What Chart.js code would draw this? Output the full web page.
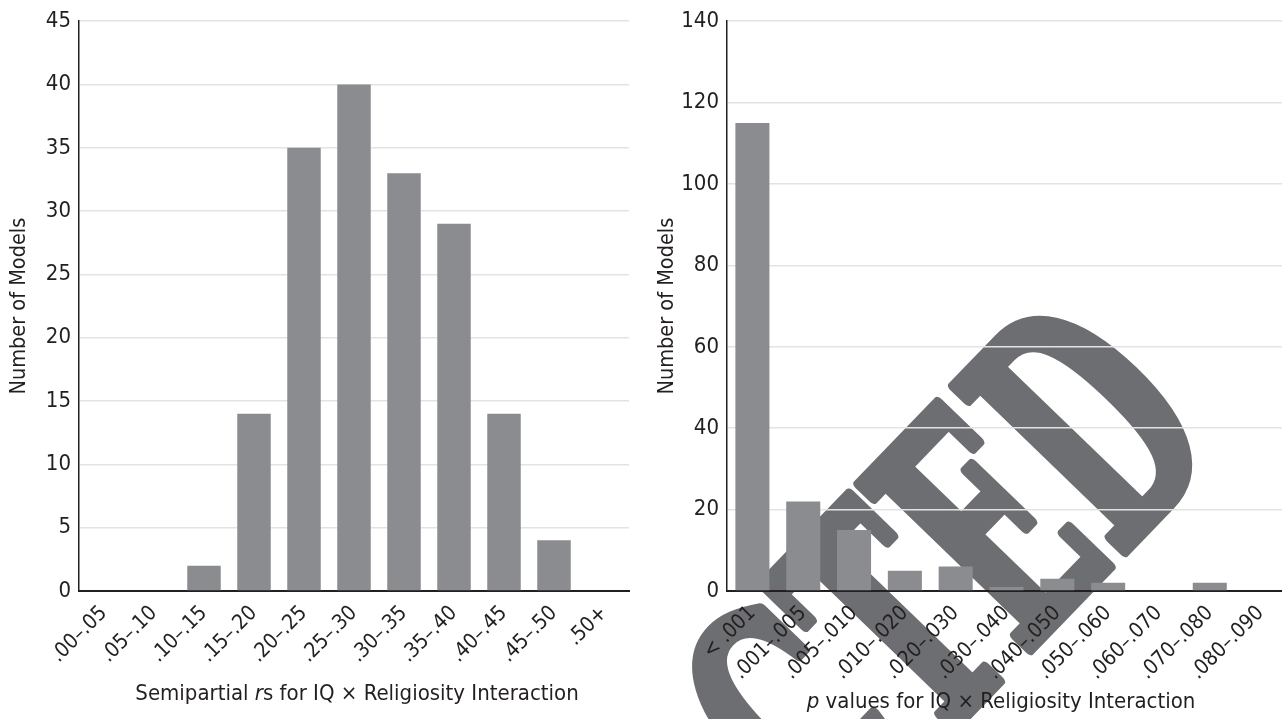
<!DOCTYPE html>
<html><head><meta charset="utf-8">
<script src="https://cdn.jsdelivr.net/npm/chart.js@4/dist/chart.umd.min.js"></script>
<style>
html,body{margin:0;padding:0;background:#fff;overflow:hidden;width:1282px;height:719px;}
.w{position:absolute;top:0;height:719px;}
</style></head><body>
<div class="w" style="left:0;width:640px"><canvas id="c1"></canvas></div>
<div class="w" style="left:640px;width:660px"><canvas id="c2"></canvas></div>
<script>
// ---- data ----
const rCategories = ['.00–.05','.05–.10','.10–.15','.15–.20','.20–.25','.25–.30','.30–.35','.35–.40','.40–.45','.45–.50','.50+'];
const rCounts = [0,0,2,14,35,40,33,29,14,4,0];
const pCategories = ['< .001','.001–.005','.005–.010','.010–.020','.020–.030','.030–.040','.040–.050','.050–.060','.060–.070','.070–.080','.080–.090'];
const pCounts = [115,22,15,5,6,1,3,2,0,2,0];
const rTicks = {min:0, max:45, step:5};
const pTicks = {min:0, max:140, step:20};
const yTitle = 'Number of Models';
const rTitle = [['Semipartial ',false],['r',true],['s for IQ × Religiosity Interaction',false]];
const pTitle = [['p',true],[' values for IQ × Religiosity Interaction',false]];
const stampText = 'RETRACTED';

const FONT = '"Liberation Sans Narrow","DejaVu Sans Condensed","Liberation Sans",sans-serif';
const TXT = '#231f20';
const BAR = '#8b8c90';
const GRID = '#e3e3e3';

function xTitlePlugin(parts, cx, cy){
  return {id:'xt', afterDraw(chart){
    const ctx = chart.ctx; ctx.save();
    ctx.fillStyle = TXT; ctx.textBaseline='middle';
    const f = i => (i?'italic ':'')+'22px '+FONT;
    let w=0; parts.forEach(p=>{ctx.font=f(p[1]); w+=ctx.measureText(p[0]).width;});
    let x = cx - w/2;
    parts.forEach(p=>{ctx.font=f(p[1]); ctx.fillText(p[0],x,cy); x+=ctx.measureText(p[0]).width;});
    ctx.restore();
  }};
}

const stampPlugin = {id:'stamp', beforeDraw(chart){
  const ctx = chart.ctx; ctx.save();
  ctx.fillStyle = '#6d6e72'; ctx.strokeStyle = '#6d6e72';
  ctx.translate(585, 447);
  ctx.rotate(-46*Math.PI/180);
  ctx.scale(0.55, 1);
  ctx.font = 'bold 325px "DejaVu Serif", "Liberation Serif", serif';
  ctx.textAlign='right'; ctx.textBaseline='alphabetic';
  ctx.lineWidth = 12; ctx.lineJoin = 'round';
  ctx.fillText(stampText, 0, 0);
  ctx.strokeText(stampText, 0, 0);
  ctx.restore();
}};

function makeChart(id, cats, vals, tk, yW, titlePad, padRight, plugins){
  return new Chart(document.getElementById(id), {
    type:'bar',
    data:{labels:cats, datasets:[{data:vals, backgroundColor:BAR, barPercentage:0.67, categoryPercentage:1.0}]},
    options:{
      responsive:true, maintainAspectRatio:false, animation:false,
      devicePixelRatio:1,
      layout:{padding:{top:20,right:padRight,left:0,bottom:0}},
      plugins:{legend:{display:false}, tooltip:{enabled:false}},
      scales:{
        x:{
          grid:{display:false, drawTicks:false},
          border:{display:true, color:TXT, width:2},
          ticks:{color:TXT, font:{family:FONT,size:21}, maxRotation:45, minRotation:45, padding:10, autoSkip:false},
          afterFit(s){ s.height = 128; }
        },
        y:{
          min:tk.min, max:tk.max,
          grid:{color:GRID, lineWidth:1.5, drawTicks:false},
          border:{display:true, color:TXT, width:1.5},
          ticks:{stepSize:tk.step, color:TXT, font:{family:FONT,size:22}, padding:8},
          title:{display:true, text:yTitle, color:TXT, font:{family:FONT,size:21.5}, padding:{top:titlePad,bottom:0}},
          afterFit(s){ s.width = yW; }
        }
      }
    },
    plugins:plugins
  });
}
makeChart('c1', rCategories, rCounts, rTicks, 79, 7, 11, [xTitlePlugin(rTitle, 357, 694)]);
makeChart('c2', pCategories, pCounts, pTicks, 87, 15, 14, [stampPlugin, xTitlePlugin(pTitle, 361, 702)]);
</script>
</body></html>
